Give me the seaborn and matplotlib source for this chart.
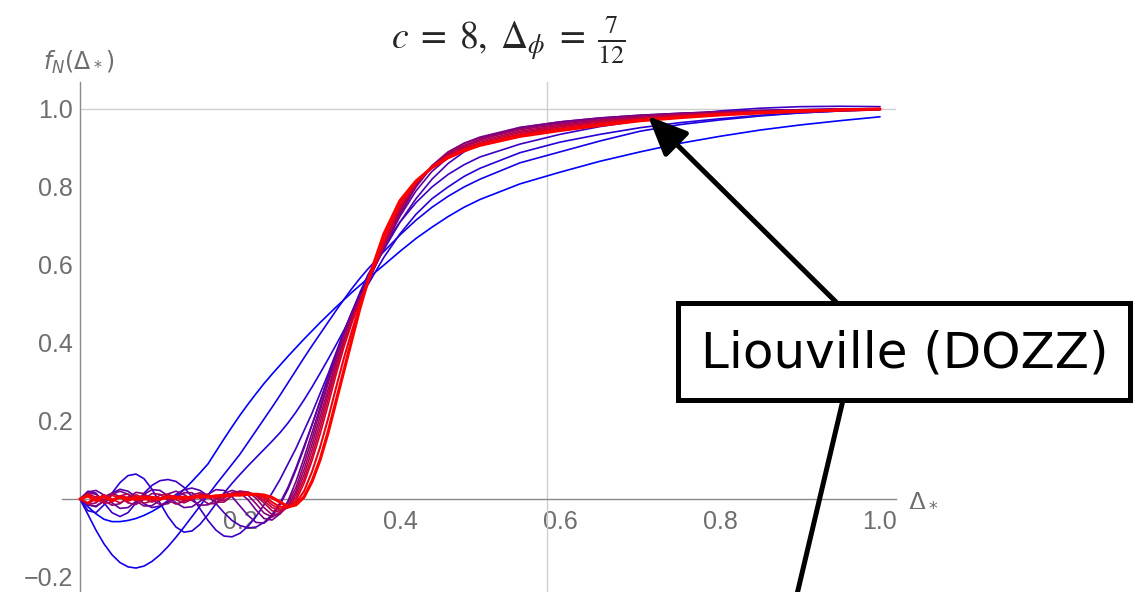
import matplotlib
matplotlib.use("Agg")
import matplotlib.pyplot as plt
import seaborn as sns
from matplotlib.patches import Rectangle
from matplotlib.ticker import FixedLocator, MultipleLocator

# sample points along Delta_*
delta = [0.00, 0.01, 0.02, 0.03, 0.04, 0.05, 0.06, 0.07, 0.08, 0.09,
         0.10, 0.11, 0.12, 0.13, 0.14, 0.15, 0.16, 0.17, 0.18, 0.19,
         0.20, 0.21, 0.22, 0.23, 0.24, 0.25, 0.26, 0.27, 0.28, 0.29,
         0.30, 0.31, 0.32, 0.33, 0.34, 0.35, 0.36,
         0.38, 0.40, 0.42, 0.44, 0.46, 0.48, 0.50,
         0.55, 0.60, 0.65, 0.70, 0.75, 0.80, 0.85, 0.90, 0.95, 1.00]

# f_N values, lowest N (blue) to highest N (red)
curve_0 = [0, -0.02, -0.038, -0.052, -0.058, -0.058, -0.055, -0.05, -0.042, -0.032,
           -0.02, -0.008, 0.006, 0.024, 0.045, 0.067, 0.09, 0.122, 0.154, 0.185,
           0.215, 0.243, 0.27, 0.296, 0.32, 0.343, 0.366, 0.388, 0.41, 0.431,
           0.452, 0.472, 0.492, 0.511, 0.53, 0.548, 0.566,
           0.60, 0.635, 0.668, 0.697, 0.724, 0.748, 0.768,
           0.808, 0.838, 0.866, 0.89, 0.912, 0.93, 0.946, 0.959, 0.97, 0.98]
curve_1 = [0, -0.04, -0.08, -0.115, -0.143, -0.163, -0.174, -0.177, -0.172, -0.16,
           -0.143, -0.122, -0.098, -0.072, -0.045, -0.018, 0.01, 0.037, 0.063, 0.089,
           0.115, 0.145, 0.175, 0.205, 0.235, 0.266, 0.298, 0.33, 0.362, 0.393,
           0.423, 0.453, 0.483, 0.512, 0.54, 0.566, 0.59,
           0.635, 0.677, 0.715, 0.748, 0.776, 0.8, 0.82,
           0.862, 0.89, 0.918, 0.943, 0.96, 0.972, 0.982, 0.99, 0.995, 0.999]
curve_2 = [0, -0.03, -0.035, -0.015, 0.015, 0.042, 0.06, 0.064, 0.052, 0.025,
           -0.01, -0.045, -0.072, -0.085, -0.082, -0.065, -0.04, -0.012, 0.015, 0.04,
           0.063, 0.085, 0.106, 0.127, 0.148, 0.17, 0.195, 0.223, 0.254, 0.287,
           0.322, 0.358, 0.395, 0.433, 0.471, 0.51, 0.55,
           0.62, 0.68, 0.73, 0.77, 0.80, 0.827, 0.848,
           0.888, 0.915, 0.935, 0.952, 0.965, 0.975, 0.984, 0.99, 0.995, 0.998]
curve_3 = [0, 0.02, 0.015, -0.01, -0.035, -0.045, -0.035, -0.01, 0.015, 0.035,
           0.047, 0.05, 0.045, 0.03, 0.005, -0.025, -0.055, -0.08, -0.095, -0.097,
           -0.088, -0.07, -0.045, -0.015, 0.015, 0.05, 0.09, 0.13, 0.175, 0.22,
           0.27, 0.32, 0.375, 0.43, 0.48, 0.53, 0.575,
           0.65, 0.71, 0.76, 0.80, 0.832, 0.857, 0.877,
           0.91, 0.935, 0.955, 0.97, 0.984, 0.995, 1.002, 1.006, 1.007, 1.006]
curve_4 = [0, -0.015, -0.02, -0.005, 0.015, 0.025, 0.02, 0.005, -0.012, -0.022,
           -0.018, -0.004, 0.012, 0.024, 0.028, 0.022, 0.008, -0.012, -0.035, -0.055,
           -0.068, -0.074, -0.072, -0.06, -0.04, -0.01, 0.03, 0.08, 0.135, 0.19,
           0.25, 0.31, 0.37, 0.43, 0.48, 0.525, 0.565,
           0.64, 0.71, 0.77, 0.82, 0.86, 0.89, 0.91,
           0.935, 0.955, 0.968, 0.978, 0.986, 0.992, 0.996, 0.998, 1.0, 1.0]
curve_5 = [0, 0.018, 0.022, 0.01, -0.01, -0.024, -0.022, -0.006, 0.012, 0.024,
           0.022, 0.008, -0.01, -0.022, -0.02, -0.006, 0.012, 0.024, 0.022, 0.006,
           -0.018, -0.042, -0.06, -0.062, -0.045, -0.015, 0.025, 0.075, 0.13, 0.19,
           0.25, 0.31, 0.37, 0.425, 0.475, 0.52, 0.56,
           0.645, 0.725, 0.79, 0.84, 0.875, 0.902, 0.922,
           0.952, 0.967, 0.977, 0.984, 0.989, 0.993, 0.996, 0.998, 0.999, 1.0]
curve_6 = [0, -0.015, -0.018, -0.005, 0.012, 0.02, 0.012, -0.005, -0.018, -0.017,
           -0.003, 0.013, 0.02, 0.012, -0.004, -0.016, -0.015, -0.002, 0.014, 0.022,
           0.016, -0.002, -0.028, -0.05, -0.054, -0.038, -0.005, 0.045, 0.105, 0.17,
           0.235, 0.3, 0.365, 0.425, 0.475, 0.52, 0.56,
           0.645, 0.73, 0.8, 0.852, 0.888, 0.912, 0.928,
           0.953, 0.967, 0.977, 0.984, 0.989, 0.993, 0.996, 0.998, 0.999, 1.0]
curve_7 = [0, 0.016, 0.012, -0.004, -0.016, -0.012, 0.004, 0.017, 0.014, -0.002,
           -0.014, -0.012, 0.003, 0.016, 0.016, 0.002, -0.012, -0.012, 0.002, 0.016,
           0.02, 0.01, -0.012, -0.036, -0.046, -0.036, -0.01, 0.03, 0.09, 0.155,
           0.225, 0.295, 0.36, 0.42, 0.47, 0.515, 0.558,
           0.645, 0.735, 0.805, 0.855, 0.89, 0.912, 0.926,
           0.95, 0.964, 0.975, 0.982, 0.988, 0.992, 0.995, 0.997, 0.999, 1.0]
curve_8 = [0, -0.014, -0.01, 0.006, 0.015, 0.006, -0.01, -0.014, 0.0, 0.014,
           0.012, -0.003, -0.013, -0.006, 0.01, 0.016, 0.006, -0.008, -0.008, 0.008,
           0.02, 0.018, 0.002, -0.022, -0.04, -0.038, -0.018, 0.02, 0.075, 0.14,
           0.21, 0.28, 0.35, 0.41, 0.465, 0.512, 0.556,
           0.648, 0.738, 0.805, 0.853, 0.886, 0.907, 0.922,
           0.947, 0.961, 0.972, 0.98, 0.986, 0.991, 0.994, 0.997, 0.999, 1.0]
curve_9 = [0, 0.014, 0.004, -0.011, -0.008, 0.008, 0.013, 0.0, -0.011, -0.005,
           0.01, 0.012, -0.002, -0.01, -0.001, 0.012, 0.012, 0.0, -0.004, 0.008,
           0.018, 0.018, 0.008, -0.01, -0.03, -0.034, -0.02, 0.012, 0.062, 0.125,
           0.195, 0.268, 0.34, 0.405, 0.462, 0.51, 0.556,
           0.65, 0.742, 0.808, 0.853, 0.884, 0.904, 0.918,
           0.943, 0.958, 0.97, 0.978, 0.985, 0.99, 0.994, 0.997, 0.999, 1.0]
curve_10 = [0, -0.012, 0.0, 0.011, 0.0, -0.01, 0.0, 0.011, 0.002, -0.008,
            0.0, 0.011, 0.005, -0.005, 0.0, 0.011, 0.01, 0.0, 0.004, 0.014,
            0.016, 0.016, 0.01, -0.004, -0.022, -0.03, -0.022, 0.004, 0.05, 0.11,
            0.18, 0.255, 0.33, 0.4, 0.458, 0.508, 0.556,
            0.655, 0.748, 0.81, 0.852, 0.881, 0.9, 0.914,
            0.94, 0.955, 0.967, 0.976, 0.983, 0.989, 0.993, 0.996, 0.998, 1.0]
curve_11 = [0, 0.012, -0.004, -0.006, 0.009, 0.004, -0.006, 0.004, 0.009, -0.002,
            -0.002, 0.009, 0.006, -0.002, 0.004, 0.01, 0.006, 0.004, 0.01, 0.014,
            0.013, 0.015, 0.012, 0.002, -0.015, -0.026, -0.022, -0.004, 0.04, 0.098,
            0.165, 0.24, 0.318, 0.39, 0.452, 0.505, 0.556,
            0.66, 0.752, 0.812, 0.851, 0.878, 0.897, 0.911,
            0.936, 0.951, 0.964, 0.974, 0.981, 0.987, 0.992, 0.995, 0.998, 1.0]
curve_12 = [0, -0.01, 0.006, 0.004, -0.006, 0.006, 0.004, -0.004, 0.006, 0.005,
            -0.002, 0.006, 0.007, 0.0, 0.006, 0.009, 0.004, 0.008, 0.011, 0.01,
            0.012, 0.014, 0.012, 0.006, -0.008, -0.02, -0.021, -0.01, 0.02, 0.07,
            0.132, 0.205, 0.285, 0.362, 0.432, 0.497, 0.558,
            0.67, 0.76, 0.814, 0.85, 0.876, 0.894, 0.908,
            0.932, 0.948, 0.961, 0.972, 0.98, 0.986, 0.991, 0.995, 0.998, 1.0]
curve_13 = [0, 0.008, -0.004, 0.006, -0.003, 0.005, -0.002, 0.004, 0.0, 0.004,
            0.001, 0.004, 0.002, 0.005, 0.003, 0.006, 0.005, 0.008, 0.008, 0.01,
            0.01, 0.012, 0.012, 0.01, 0.004, -0.008, -0.02, -0.015, 0.005, 0.045,
            0.1, 0.17, 0.25, 0.33, 0.41, 0.49, 0.56,
            0.68, 0.765, 0.815, 0.85, 0.875, 0.893, 0.907,
            0.93, 0.945, 0.958, 0.97, 0.978, 0.985, 0.99, 0.994, 0.997, 1.0]

curves = [curve_0, curve_1, curve_2, curve_3, curve_4, curve_5, curve_6,
          curve_7, curve_8, curve_9, curve_10, curve_11, curve_12, curve_13]

x_ticks = [0.2, 0.4, 0.6, 0.8, 1.0]
y_ticks = [-0.2, 0.2, 0.4, 0.6, 0.8, 1.0]
delta_phi = 7 / 12

sns.set_style('white')
plt.rcParams['font.family'] = ['Liberation Sans', 'DejaVu Sans']

gray = '#8a8a8a'
label_gray = '#6e6e6e'

fig = plt.figure(figsize=(11.46, 5.92), dpi=100)
# axes placed in pixels: x -0.022..1.02 -> 62..896 px, y -0.26..1.07 -> 600..82 px (from top)
W, H = 1146, 592
ax = fig.add_axes([62.4 / W, (H - 600.4) / H, (896 - 62.4) / W, (600.4 - 81.7) / H])
ax.set_xlim(-0.022, 1.02)
ax.set_ylim(-0.26, 1.07)

# grid lines at Delta_phi and at 1
ax.axvline(delta_phi, color='#cfcfcf', lw=1.0, zorder=1)
ax.axhline(1.0, xmin=0.022 / 1.042, xmax=1, color='#cfcfcf', lw=1.0, zorder=1)

# blend blue -> red
n = len(curves)
for i, c in enumerate(curves):
    t = i / (n - 1)
    col = (t, 0, 1 - t)
    lw = 2.3 if i == n - 1 else (1.5 if i == n - 2 else 1.2)
    sns.lineplot(x=delta, y=c, color=col, lw=lw,
                 ax=ax, estimator=None, sort=False, zorder=3)

# axes through the origin
for s in ['top', 'right']:
    ax.spines[s].set_visible(False)
ax.spines['left'].set_position(('data', 0))
ax.spines['bottom'].set_position(('data', 0))
for s in ['left', 'bottom']:
    ax.spines[s].set_color(gray)
    ax.spines[s].set_linewidth(1.0)
    ax.spines[s].set_zorder(2)

ax.xaxis.set_major_locator(FixedLocator(x_ticks))
ax.yaxis.set_major_locator(FixedLocator(y_ticks))
ax.xaxis.set_minor_locator(MultipleLocator(0.05))
ax.yaxis.set_minor_locator(MultipleLocator(0.05))
ax.set_xticklabels([f'{v:.1f}' for v in x_ticks])
ax.set_yticklabels([f'{v:.1f}'.replace('-', '\u2212') for v in y_ticks])
ax.tick_params(which='both', direction='in', color=gray, labelcolor=label_gray,
               labelsize=18)
ax.tick_params(which='major', length=5, width=1.0)
ax.tick_params(which='minor', length=3, width=0.8)
ax.tick_params(axis='x', pad=8)
ax.tick_params(axis='y', pad=5)
ax.set_xlabel('')
ax.set_ylabel('')

# axis labels
ax.text(1.035, 0.0, r'$\Delta_*$', color=label_gray, fontsize=18,
        ha='left', va='center', clip_on=False)
ax.text(-0.001, 1.12, r'$f_N(\Delta_*)$', color=label_gray, fontsize=17,
        ha='center', va='center', clip_on=False)

# title
fig.text(508 / W, 1 - 40 / H, r'$c\;=\;8,\;\Delta_\phi\;=\;\frac{7}{12}$',
         math_fontfamily='stix', fontsize=27, ha='center', va='center')

# annotation: box, label and the two pointer lines
fig.add_artist(Rectangle((678 / W, (H - 400) / H), 452 / W, 97 / H,
                         transform=fig.transFigure, fc='white', ec='black',
                         lw=3.6, zorder=6))
fig.text(905 / W, (H - 368) / H, 'Liouville (DOZZ)', family='DejaVu Sans',
         fontsize=36, color='black', ha='center', va='baseline', zorder=7)
tip = (0.71, 0.982)
ax.annotate('', xy=tip, xycoords='data',
            xytext=(837, H - 303), textcoords='figure pixels',
            arrowprops=dict(arrowstyle='-|>,head_length=0.8,head_width=0.35',
                            mutation_scale=30, lw=3.6, color='black',
                            shrinkA=0, shrinkB=0),
            zorder=5, annotation_clip=False)
ax.annotate('', xy=(772, H - 700), xycoords='figure pixels',
            xytext=(843, H - 400), textcoords='figure pixels',
            arrowprops=dict(arrowstyle='-', lw=3.6, color='black',
                            shrinkA=0, shrinkB=0),
            zorder=5, annotation_clip=False)

fig.savefig('out.png', dpi=100)
